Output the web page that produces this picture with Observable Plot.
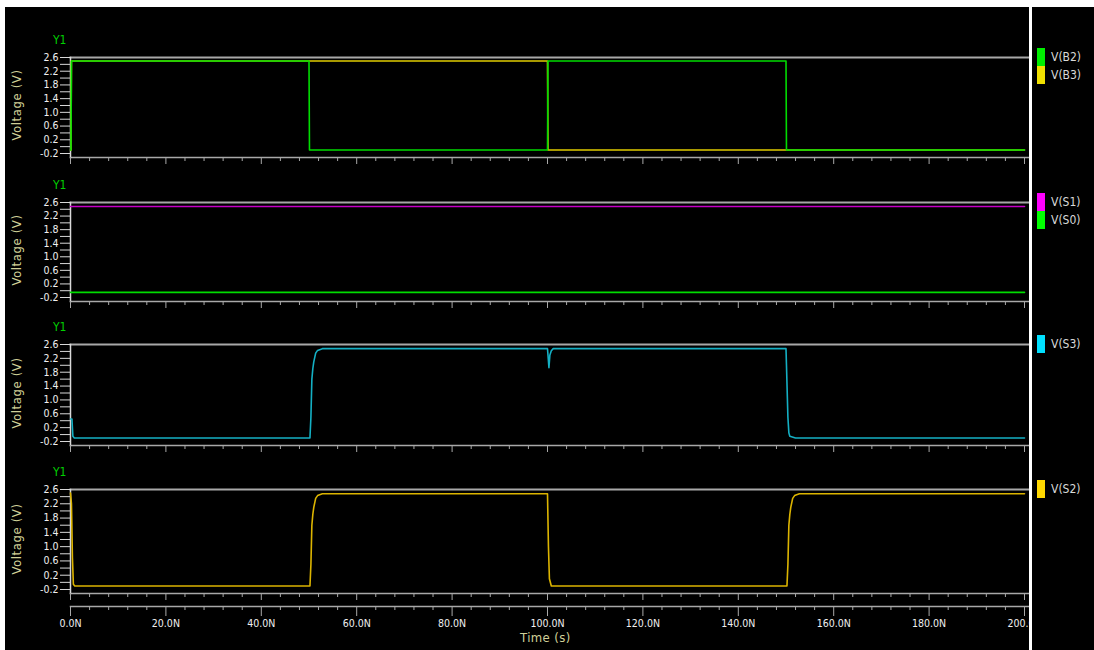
<!DOCTYPE html>
<html><head><meta charset="utf-8">
<script src="https://cdn.jsdelivr.net/npm/d3@7"></script>
<script src="https://cdn.jsdelivr.net/npm/@observablehq/plot@0.6"></script>
<style>
html,body{margin:0;padding:0;background:#000;}
#root{position:relative;width:1094px;height:650px;background:#000;overflow:hidden;font-family:"DejaVu Sans Condensed","DejaVu Sans",sans-serif;}
.y1{position:absolute;left:53px;color:#00d000;font-size:12px;line-height:14px;}
.vlab{position:absolute;width:120px;height:16px;line-height:16px;text-align:center;color:#d0d098;font-size:13px;transform:rotate(-90deg);letter-spacing:0.6px;}
.leg{position:absolute;left:1037px;font-size:12px;color:#d8d8d8;}
.leg .row{display:flex;align-items:center;height:18px;}
.leg .sw{width:8px;height:18px;margin-right:6px;}
</style></head><body><div id="root"></div>
<script>
// ---- data (time in ns, voltage in V) ----
const b2Time = [0, 0.1, 0.2, 50.0, 50.1, 100.0, 100.1, 150.0, 150.1, 200];
const b2Volt = [-0.1, -0.1, 2.5, 2.5, -0.1, -0.1, 2.5, 2.5, -0.1, -0.1];
const b3Time = [0, 0.1, 0.2, 100.0, 100.1, 200];
const b3Volt = [-0.1, -0.1, 2.5, 2.5, -0.1, -0.1];
const s1Time = [0, 200];
const s1Volt = [2.48, 2.48];
const s0Time = [0, 200];
const s0Volt = [-0.05, -0.05];
const s3Time = [0, 0.3, 0.5, 0.8, 50.2, 50.4, 50.6, 50.8, 51.0, 51.4, 51.8, 52.8, 100.0, 100.1, 100.3, 100.5, 100.8, 101.2, 150.0, 150.1, 150.4, 150.6, 150.8, 152.0, 200];
const s3Volt = [0.45, 0.45, -0.05, -0.1, -0.1, 0.5, 1.6, 1.9, 2.1, 2.35, 2.43, 2.48, 2.48, 2.3, 1.93, 2.3, 2.42, 2.48, 2.48, 2.0, 0.5, 0.05, -0.05, -0.1, -0.1];
const s2Time = [0, 0.2, 0.4, 0.6, 0.9, 50.2, 50.4, 50.6, 50.8, 51.0, 51.4, 51.8, 52.8, 100.0, 100.2, 100.4, 100.8, 150.2, 150.4, 150.6, 150.8, 151.0, 151.4, 151.8, 152.8, 200];
const s2Volt = [2.5, 2.2, 0.7, -0.05, -0.1, -0.1, 0.5, 1.6, 1.9, 2.1, 2.35, 2.43, 2.48, 2.48, 1.0, 0.1, -0.1, -0.1, 0.5, 1.6, 1.9, 2.1, 2.35, 2.43, 2.48, 2.48];

const yTickLabels = [-0.2, 0.2, 0.6, 1.0, 1.4, 1.8, 2.2, 2.6];
const yMinorTicks = [0.0, 0.4, 0.8, 1.2, 1.6, 2.0, 2.4];
const xMajorTicks = [0, 20, 40, 60, 80, 100, 120, 140, 160, 180, 200];
const xMinorTicks = [4, 8, 12, 16, 24, 28, 32, 36, 44, 48, 52, 56, 64, 68, 72, 76, 84, 88, 92, 96, 104, 108, 112, 116, 124, 128, 132, 136, 144, 148, 152, 156, 164, 168, 172, 176, 184, 188, 192, 196];

const seriesNames = ["V(B2)", "V(B3)", "V(S1)", "V(S0)", "V(S3)", "V(S2)"];
const lineColors = {"V(B2)": "#00dc00", "V(B3)": "#e0cc00", "V(S1)": "#c800c8", "V(S0)": "#00dc00", "V(S3)": "#14b0c4", "V(S2)": "#dcb400"};
const swatchColors = {"V(B2)": "#00ee00", "V(B3)": "#f0e000", "V(S1)": "#ff00ff", "V(S0)": "#00ff00", "V(S3)": "#00e0ff", "V(S2)": "#ffd800"};

const rows = (t, v) => t.map((x, i) => ({t: x, v: v[i]}));
const panels = [
  {top: 57, ph: 96, draw: [["V(B3)", rows(b3Time, b3Volt)], ["V(B2)", rows(b2Time, b2Volt)]], legend: ["V(B2)", "V(B3)"]},
  {top: 202, ph: 95, draw: [["V(S0)", rows(s0Time, s0Volt)], ["V(S1)", rows(s1Time, s1Volt)]], legend: ["V(S1)", "V(S0)"]},
  {top: 344, ph: 97, draw: [["V(S3)", rows(s3Time, s3Volt)]], legend: ["V(S3)"]},
  {top: 489, ph: 100, draw: [["V(S2)", rows(s2Time, s2Volt)]], legend: ["V(S2)"]}
];

const root = document.getElementById("root");
const FONT = '"DejaVu Sans Condensed","DejaVu Sans",sans-serif';
const MT = 20;

function add(el, css) { Object.assign(el.style, css); root.appendChild(el); return el; }

for (const p of panels) {
  const svg = Plot.plot({
    width: 1029, height: MT + p.ph + 4 + 10,
    marginLeft: 70, marginRight: 1, marginTop: MT, marginBottom: 10,
    insetRight: 4, insetBottom: 4,
    style: {background: "transparent", color: "#e8e8e8", fontFamily: FONT, fontSize: "10px", overflow: "visible"},
    x: {domain: [0, 200]},
    y: {domain: [-0.2, 2.6]},
    marks: [
      Plot.frame({anchor: "top", stroke: "#a8a8a8", strokeWidth: 2}),
      Plot.frame({anchor: "bottom", stroke: "#a8a8a8", strokeWidth: 1.5}),
      Plot.frame({anchor: "left", stroke: "#d8d8d8", strokeWidth: 1.5}),
      Plot.axisY({ticks: yMinorTicks, tickSize: 10, tickFormat: () => "", label: null, stroke: "#d8d8d8"}),
      Plot.axisY({ticks: yTickLabels, tickSize: 10, tickPadding: 2, tickFormat: d => d.toFixed(1), label: null, stroke: "#d8d8d8", fill: "#f0f0f0", fontSize: 10.5}),
      Plot.axisX({ticks: xMinorTicks, tickSize: 4, tickFormat: () => "", label: null, stroke: "#a8a8a8"}),
      Plot.axisX({ticks: xMajorTicks, tickSize: 7, tickFormat: () => "", label: null, stroke: "#a8a8a8"}),
      ...p.draw.map(([name, data]) => Plot.line(data, {x: "t", y: "v", stroke: lineColors[name], strokeWidth: 1.6}))
    ]
  });
  add(svg, {position: "absolute", left: "0px", top: (p.top - MT) + "px"});

  const y1 = document.createElement("div"); y1.className = "y1"; y1.textContent = "Y1";
  add(y1, {top: (p.top - 24) + "px"});
  const vl = document.createElement("div"); vl.className = "vlab"; vl.textContent = "Voltage (V)";
  add(vl, {left: (17 - 60) + "px", top: (p.top + p.ph / 2 - 8) + "px"});

  const lg = document.createElement("div"); lg.className = "leg";
  for (const name of p.legend) {
    const r = document.createElement("div"); r.className = "row";
    const sw = document.createElement("div"); sw.className = "sw"; sw.style.background = swatchColors[name];
    const tx = document.createElement("span"); tx.textContent = name;
    r.appendChild(sw); r.appendChild(tx); lg.appendChild(r);
  }
  add(lg, {top: (p.top - 9) + "px"});
}

// bottom time axis
const axisWrap = add(document.createElement("div"), {position: "absolute", left: "0px", top: "596px", width: "1029px", height: "50px", overflow: "hidden"});
const axisSvg = Plot.plot({
  width: 1029, height: 50,
  marginLeft: 70, marginRight: 1, marginTop: 0, marginBottom: 40, insetRight: 4,
  style: {background: "transparent", color: "#e8e8e8", fontFamily: FONT, fontSize: "11px"},
  x: {domain: [0, 200]},
  marks: [
    Plot.frame({anchor: "bottom", stroke: "#a8a8a8", strokeWidth: 1.5}),
    Plot.axisX({ticks: xMinorTicks, tickSize: 4, tickFormat: () => "", label: null, stroke: "#a8a8a8"}),
    Plot.axisX({ticks: xMajorTicks, tickSize: 10, tickPadding: 3, tickFormat: d => d.toFixed(1) + "N", label: null, stroke: "#a8a8a8", fill: "#f0f0f0", fontSize: 10.5})
  ]
});
axisWrap.appendChild(axisSvg);

const tl = document.createElement("div"); tl.textContent = "Time (s)";
add(tl, {position: "absolute", left: "520px", top: "630px", color: "#d0d098", fontSize: "13px", lineHeight: "16px", letterSpacing: "0.4px"});

// window frame
add(document.createElement("div"), {position: "absolute", left: "0px", top: "0px", width: "1094px", height: "7px", background: "#fff"});
add(document.createElement("div"), {position: "absolute", left: "0px", top: "0px", width: "5px", height: "650px", background: "#fff"});
add(document.createElement("div"), {position: "absolute", left: "1029px", top: "0px", width: "3px", height: "650px", background: "#fff"});
</script>
</body></html>
